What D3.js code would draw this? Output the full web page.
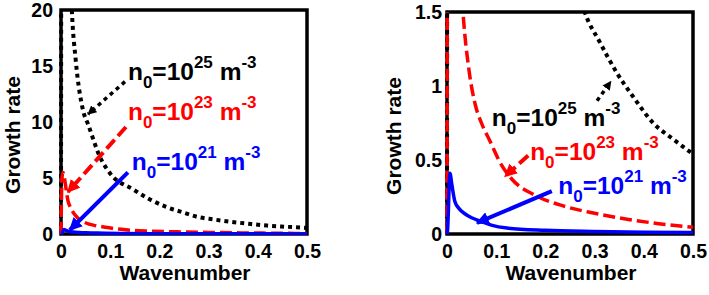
<!DOCTYPE html>
<html>
<head>
<meta charset="utf-8">
<script src="https://cdn.jsdelivr.net/npm/d3@7"></script>
<style>
  body { margin: 0; background: #fff; }
  svg text { font-family: "Liberation Sans", Arial, Helvetica, sans-serif; font-weight: bold; }
</style>
</head>
<body>
<svg id="chart" width="709" height="295"></svg>
<script>
// growth rate vs wavenumber
const kBlack = [0, 0.002, 0.015, 0.022, 0.03, 0.045, 0.055, 0.079, 0.1, 0.146, 0.18, 0.215, 0.25, 0.28, 0.31, 0.345, 0.38, 0.419, 0.46, 0.5];
const gBlack = [0, 80, 29, 20, 15.5, 11, 9.8, 6.9, 5.4, 4.0, 3.1, 2.4, 1.9, 1.5, 1.3, 1.09, 0.92, 0.75, 0.64, 0.54];

const kRed = [0, 0.002, 0.004, 0.007, 0.01, 0.014, 0.02, 0.0325, 0.045, 0.057, 0.07, 0.087, 0.11, 0.132, 0.18, 0.236, 0.3, 0.366, 0.43, 0.5];
const gRed = [0, 5.0, 5.5, 5.0, 4.1, 3.0, 2.3, 1.5, 1.1, 0.88, 0.75, 0.63, 0.47, 0.37, 0.26, 0.19, 0.14, 0.10, 0.07, 0.045];

const kBlue = [0, 0.001, 0.006, 0.01, 0.016, 0.025, 0.037, 0.05, 0.067, 0.09, 0.122, 0.2, 0.3, 0.4, 0.5];
const gBlue = [0, 0.02, 0.41, 0.33, 0.22, 0.17, 0.135, 0.11, 0.088, 0.06, 0.04, 0.025, 0.017, 0.012, 0.01];

const xTicks = [0, 0.1, 0.2, 0.3, 0.4, 0.5];
const yTicksLeft = [0, 5, 10, 15, 20];
const yTicksRight = [0, 0.5, 1, 1.5];

const series = [
    { name: 'n25', k: kBlack, g: gBlack, color: '#000000', dash: '4,4', width: 4, exp: '25' },
    { name: 'n23', k: kRed, g: gRed, color: '#ff0000', dash: '12,5', width: 3.5, exp: '23' },
    { name: 'n21', k: kBlue, g: gBlue, color: '#0000ff', dash: null, width: 3.5, exp: '21' }
];

// label anchor + arrow (data units of each panel)
const notesLeft = [
    { s: 0, tk: 0.136, tg: 13.75, fk: 0.130, fg: 13.6, ak: 0.055, ag: 10.7 },
    { s: 1, tk: 0.136, tg: 10.2, fk: 0.132, fg: 9.55, ak: 0.014, ag: 3.75 },
    { s: 2, tk: 0.144, tg: 5.7, fk: 0.136, fg: 5.5, ak: 0.018, ag: 0.36 }
];
const notesRight = [
    { s: 0, tk: 0.091, tg: 0.733, fk: 0.305, fg: 0.90, ak: 0.333, ag: 1.03 },
    { s: 1, tk: 0.169, tg: 0.50, fk: 0.165, fg: 0.53, ak: 0.118, ag: 0.39 },
    { s: 2, tk: 0.226, tg: 0.27, fk: 0.213, fg: 0.29, ak: 0.061, ag: 0.075 }
];

const panels = [
    { left: 61, right: 307, top: 10, bottom: 234, yMax: 20, yTicks: yTicksLeft, notes: notesLeft, yPad: 8, ylabX: 12 },
    { left: 447, right: 693, top: 12, bottom: 234, yMax: 1.5, yTicks: yTicksRight, notes: notesRight, yPad: 5, ylabX: 393 }
];

const svg = d3.select('#chart');
const defs = svg.append('defs');

series.forEach(s => {
    defs.append('marker')
        .attr('id', 'head-' + s.name)
        .attr('viewBox', '0 0 10 10')
        .attr('refX', 9).attr('refY', 5)
        .attr('markerUnits', 'userSpaceOnUse')
        .attr('markerWidth', s.name === 'n25' ? 9 : 13)
        .attr('markerHeight', s.name === 'n25' ? 9 : 13)
        .attr('orient', 'auto')
        .append('path')
        .attr('d', 'M0,0 L10,5 L0,10 Z')
        .attr('fill', s.color);
});

function label(g, x, y, exp, color) {
    const t = g.append('text')
        .attr('x', x).attr('y', y)
        .attr('fill', color)
        .style('font-size', '24.5px');
    t.append('tspan').text('n');
    t.append('tspan').attr('dy', 8).style('font-size', '17px').text('0');
    t.append('tspan').attr('dy', -8).text('=10');
    t.append('tspan').attr('dy', -12).style('font-size', '17px').text(exp);
    t.append('tspan').attr('dy', 12).text('\u00a0m');
    t.append('tspan').attr('dy', -12).style('font-size', '17px').text('-3');
}

panels.forEach((p, i) => {
    const x = d3.scaleLinear().domain([0, 0.5]).range([p.left, p.right]);
    const y = d3.scaleLinear().domain([0, p.yMax]).range([p.bottom, p.top]);

    const gp = svg.append('g');

    gp.append('g')
        .attr('transform', `translate(0,${p.bottom})`)
        .call(d3.axisBottom(x).tickValues(xTicks).tickFormat(d => d).tickSize(0).tickPadding(10))
        .call(a => a.select('.domain').remove())
        .selectAll('text').style('font-size', '19.5px').attr('fill', '#000');

    gp.append('g')
        .attr('transform', `translate(${p.left},0)`)
        .call(d3.axisLeft(y).tickValues(p.yTicks).tickFormat(d => d).tickSize(0).tickPadding(p.yPad))
        .call(a => a.select('.domain').remove())
        .selectAll('text').style('font-size', '19.5px').attr('fill', '#000');

    gp.append('text')
        .attr('x', (p.left + p.right) / 2 + 1)
        .attr('y', 280)
        .attr('text-anchor', 'middle')
        .style('font-size', '21px')
        .text('Wavenumber');

    gp.append('text')
        .attr('transform', `translate(${p.ylabX + 8},${(p.top + p.bottom) / 2 + 13}) rotate(-90)`)
        .attr('text-anchor', 'middle')
        .style('font-size', '21px')
        .text('Growth rate');

    // frame
    gp.append('rect')
        .attr('x', p.left).attr('y', p.top)
        .attr('width', p.right - p.left).attr('height', p.bottom - p.top)
        .attr('fill', 'none')
        .attr('stroke', '#000')
        .attr('stroke-width', 3.5);

    const clipId = 'clip' + i;
    defs.append('clipPath').attr('id', clipId)
        .append('rect')
        .attr('x', p.left - 2).attr('y', p.top)
        .attr('width', p.right - p.left + 4).attr('height', p.bottom - p.top + 1);

    const line = d3.line()
        .x(d => x(d[0]))
        .y(d => y(Math.min(d[1], p.yMax * 5)))
        .curve(d3.curveMonotoneX);

    gp.append('g').attr('clip-path', `url(#${clipId})`)
        .selectAll('path')
        .data(series)
        .join('path')
        .attr('d', s => line(s.k.map((k, j) => [k, s.g[j]])))
        .attr('fill', 'none')
        .attr('stroke', s => s.color)
        .attr('stroke-width', s => s.width)
        .attr('stroke-dasharray', s => s.dash);

    p.notes.forEach(n => {
        const s = series[n.s];
        gp.append('line')
            .attr('x1', x(n.fk)).attr('y1', y(n.fg))
            .attr('x2', x(n.ak)).attr('y2', y(n.ag))
            .attr('stroke', s.color)
            .attr('stroke-width', s.name === 'n25' ? 3.5 : 4)
            .attr('stroke-dasharray', s.dash)
            .attr('marker-end', `url(#head-${s.name})`);
        label(gp, x(n.tk), y(n.tg), s.exp, s.color);
    });
});
</script>
</body>
</html>
